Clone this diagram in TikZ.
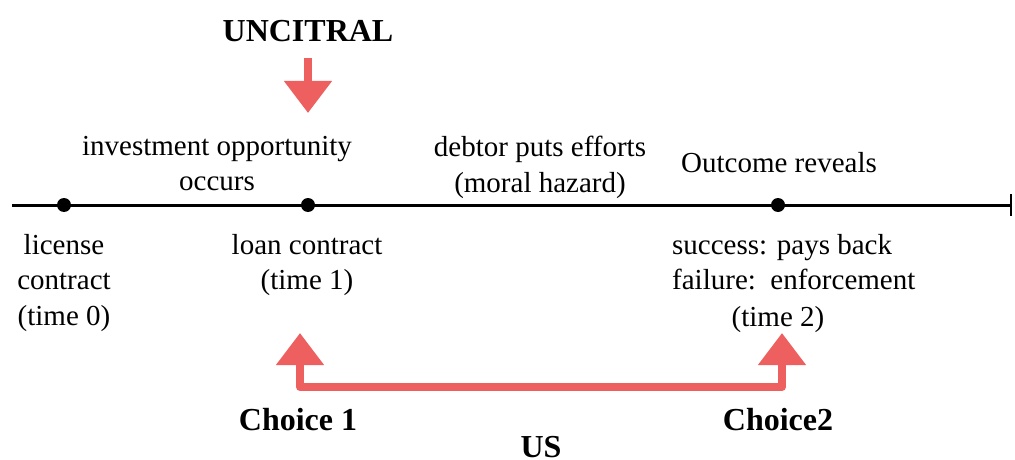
\documentclass[tikz,border=0pt]{standalone}
\usepackage{fontspec}
\setmainfont{Liberation Serif}
\usetikzlibrary{positioning,arrows.meta}
\definecolor{sketchred}{RGB}{238,96,96}

\begin{document}
\begin{tikzpicture}[x=1pt,y=-1pt,
	txt/.style={font=\fontsize{29}{35.5}\selectfont, align=center, inner sep=0pt},
	bold/.style={font=\fontsize{32}{38}\selectfont\bfseries, inner sep=0pt},
	dot/.style={circle, fill=black, inner sep=0pt, minimum size=14pt},
	redarrow/.style={draw=sketchred, line width=8pt, line join=round}]
	\useasboundingbox (0,0) rectangle (1015,460);

	\coordinate (start) at (12,205);
	\coordinate (end) at (1012,205);
	\draw[line width=3pt, -{Bar[width=22pt,line width=2.5pt]}] (start) -- (end);
	\node[dot] (t0) at (64,205) {};
	\node[dot] (t1) at (308,205) {};
	\node[dot] (t2) at (778,205) {};

	\node[txt, anchor=north] (opp) at (217,136) {investment opportunity\\occurs};
	\node[txt, anchor=north] (effort) at (540,136) {debtor puts efforts\\(moral hazard)};
	\node[txt, anchor=base] (reveal) at (779,172) {Outcome reveals};

	\node[txt, anchor=north] (lic) at (64,234) {license\\contract\\(time 0)};
	\node[txt, anchor=north] (loan) at (307,234) {loan contract\\(time 1)};
	\node[txt, anchor=north west, align=left] (outc) at (672,234) {success: pays back\\failure:\ \ enforcement};
	\node[txt, anchor=base] (time2) at (778,326) {(time 2)};

	\node[bold, anchor=base] (unc) at (308,42) {UNCITRAL};
	\coordinate (unctip) at (308,113);
	\draw[redarrow, -{Triangle[width=46pt,length=32pt]}] (308,58) -- (unctip);

	\coordinate (tipl) at (300,333);
	\coordinate (cornl) at (300,387);
	\coordinate (cornr) at (782,387);
	\coordinate (tipr) at (782,333);
	\draw[redarrow, {Triangle[width=46pt,length=32pt]}-{Triangle[width=46pt,length=32pt]}] (tipl) -- (cornl) -- (cornr) -- (tipr);

	\node[bold, anchor=base] (ch1) at (298,430) {Choice 1};
	\node[bold, anchor=base] (ch2) at (778,430) {Choice2};
	\node[bold, anchor=base] (us) at (541,457) {US};
\end{tikzpicture}
\end{document}
